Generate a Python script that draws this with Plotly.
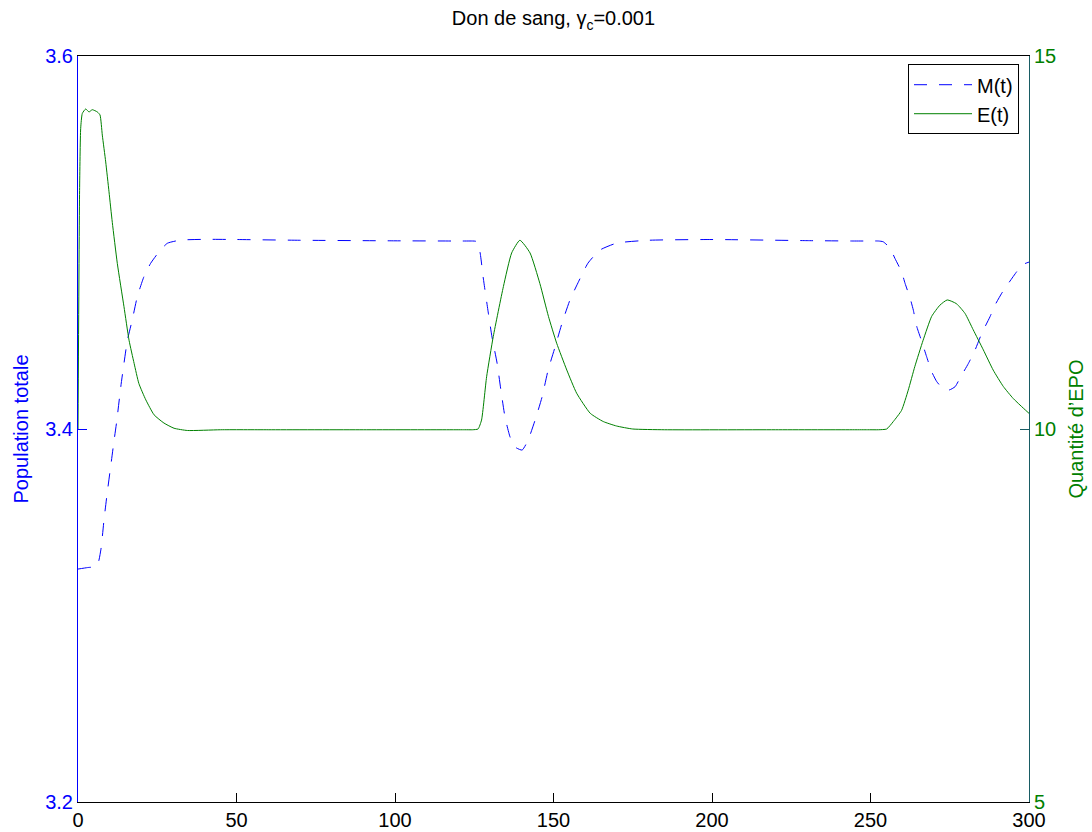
import plotly.graph_objects as go

# Time grid and total population M(t) (left axis)
t_m = [0, 3.0, 6.0, 7.2, 8.2, 9.2, 10.3, 11.4, 12.2, 13.5, 14.5, 15.6, 17.1, 18.7, 20.8,
       22.9, 25.6, 28.2, 32.4, 40.8, 50, 70, 100, 118, 122, 124.5, 125.6, 126.8, 127.8,
       129.3, 130.6, 132.2, 133.4, 134.7, 136.3, 137.9, 140.1, 142.0, 144.2, 146.4,
       148.3, 150.5, 152.7, 155.2, 157.7, 160.9, 164.7, 170.0, 180, 200, 230, 245,
       249, 252.5, 254.0, 256.2, 257.7, 259.8, 260.9, 262.5, 263.5, 264.6, 266.2,
       267.7, 269.3, 270.9, 272.8, 274.8, 276.7, 278.2, 280.9, 283.0, 285.1, 287.7,
       289.3, 291.4, 293.5, 296.1, 297.7, 300]
m_vals = [3.3249, 3.3257, 3.3265, 3.3351, 3.3512, 3.3655, 3.3798, 3.3941, 3.4039,
          3.4227, 3.4352, 3.4477, 3.4584, 3.4709, 3.4817, 3.4888, 3.4951, 3.4996,
          3.5013, 3.5017, 3.5016, 3.5012, 3.5009, 3.5008, 3.5008, 3.5008, 3.5006,
          3.4949, 3.4815, 3.4638, 3.4493, 3.4354, 3.4209, 3.4064, 3.3957, 3.3903,
          3.3887, 3.3941, 3.4048, 3.4172, 3.4316, 3.4440, 3.4568, 3.4692, 3.4783,
          3.4890, 3.4960, 3.4997, 3.5012, 3.5016, 3.5010, 3.5008, 3.5008, 3.5008,
          3.5004, 3.4969, 3.4915, 3.4843, 3.4781, 3.4701, 3.4638, 3.4549, 3.4468,
          3.4388, 3.4307, 3.4254, 3.4218, 3.4209, 3.4227, 3.4272, 3.4352, 3.4424,
          3.4513, 3.4602, 3.4665, 3.4728, 3.4781, 3.4843, 3.4879, 3.4895]

# EPO quantity E(t) (right axis)
t_e = [0, 0.5, 0.85, 1.36, 2.43, 3.47, 4.5, 6.1, 6.94, 7.67, 8.74, 9.78, 10.82, 12.4,
       14.5, 16.1, 17.7, 19.2, 21.4, 24.0, 27.1, 30.3, 34.5, 45, 60, 90, 118, 122,
       124.5, 126.2, 127.3, 128.9, 131.0, 134.2, 136.8, 139.4, 142.6, 145.7, 148.4,
       151.0, 154.2, 157.3, 161.6, 165.7, 169.9, 175, 185, 220, 245, 249, 252.5,
       255.1, 257.2, 259.8, 261.9, 264.0, 266.6, 269.3, 271.9, 274.2, 277.1, 279.8,
       282.4, 285.6, 288.7, 291.9, 295.0, 298.2, 300]
e_vals = [10.0, 13.2, 14.03, 14.23, 14.29, 14.25, 14.28, 14.25, 14.21, 13.94, 13.58,
          13.18, 12.77, 12.22, 11.64, 11.19, 10.88, 10.61, 10.39, 10.19, 10.08, 10.01,
          9.98, 9.99, 9.99, 9.99, 9.99, 9.99, 9.99, 10.00, 10.12, 10.70, 11.24, 11.91,
          12.36, 12.53, 12.36, 11.95, 11.51, 11.15, 10.79, 10.48, 10.21, 10.10, 10.04,
          10.0, 9.99, 9.99, 9.99, 9.99, 9.99, 10.00, 10.10, 10.25, 10.52, 10.84, 11.19,
          11.51, 11.66, 11.73, 11.68, 11.55, 11.33, 11.06, 10.79, 10.57, 10.41, 10.28,
          10.21]

x_ticks = [0, 50, 100, 150, 200, 250, 300]
left_ticks = [3.2, 3.4, 3.6]
right_ticks = [5, 10, 15]

BLUE = "rgb(0,0,255)"
GREEN = "rgb(0,128,0)"
TEAL = "rgb(24,92,100)"
FONT = "Liberation Sans, Arial, Helvetica, sans-serif"
FS = 20

fig = go.Figure()
fig.add_trace(go.Scatter(x=t_m, y=m_vals, mode="lines", name="M(t)",
                         line=dict(color=BLUE, width=1, dash="13px,12px",
                                   shape="spline", smoothing=0.5),
                         yaxis="y"))
fig.add_trace(go.Scatter(x=t_e, y=e_vals, mode="lines", name="E(t)",
                         line=dict(color=GREEN, width=1,
                                   shape="spline", smoothing=0.5),
                         yaxis="y2"))

fig.update_layout(
    width=1092, height=832,
    margin=dict(l=78, r=63, t=56, b=30, autoexpand=False),
    paper_bgcolor="white", plot_bgcolor="white",
    font=dict(family=FONT, size=FS, color="black"),
    title=dict(text="Don de sang, γ<sub>c</sub>=0.001", x=0.5, xref="paper",
               xanchor="center", y=0.978, yanchor="middle",
               font=dict(size=20, color="black")),
    xaxis=dict(range=[0, 300], tickvals=x_ticks, ticktext=[str(v) for v in x_ticks],
               showgrid=False, zeroline=False, showline=True, linecolor="black",
               linewidth=1, mirror=True, ticks="inside", ticklen=9,
               tickcolor="black", tickfont=dict(size=FS, color="black"),
               automargin=False),
    yaxis=dict(range=[3.2, 3.6], tickvals=left_ticks,
               ticktext=[f"{v:.1f}" for v in left_ticks],
               showgrid=False, zeroline=False, showline=True, linecolor=BLUE,
               linewidth=1, ticks="inside", ticklen=9, tickcolor=BLUE,
               tickfont=dict(size=FS, color=BLUE), automargin=False,
               title=dict(text="Population totale", font=dict(size=FS, color=BLUE),
                          standoff=11)),
    yaxis2=dict(range=[5, 15], tickvals=right_ticks,
                ticktext=[str(v) for v in right_ticks],
                overlaying="y", side="right", anchor="x",
                showgrid=False, zeroline=False, showline=True, linecolor=TEAL,
                linewidth=1, ticks="inside", ticklen=9, tickcolor=TEAL,
                tickfont=dict(size=FS, color=GREEN), automargin=False,
                title=dict(text="Quantité d’EPO", font=dict(size=FS, color=GREEN),
                           standoff=13)),
    legend=dict(x=0.9895, y=0.989, xanchor="right", yanchor="top",
                bgcolor="white", bordercolor="black", borderwidth=1,
                font=dict(size=FS, color="black"), tracegroupgap=0,
                itemwidth=58),
    showlegend=True,
)

fig.write_html("out.html")
